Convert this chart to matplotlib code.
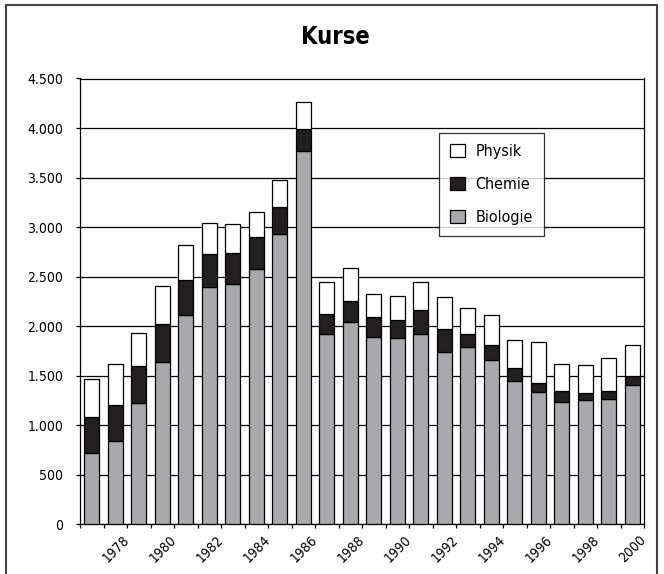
import matplotlib
matplotlib.use("Agg")
import numpy as np
from matplotlib import pyplot as plt
from matplotlib.patches import Rectangle

years = list(range(1977, 2001))
# cumulative tops
top_total = [1464, 1619, 1935, 2409, 2823, 3045, 3032, 3156, 3476, 4264,
             2446, 2588, 2325, 2308, 2446, 2295, 2184, 2113, 1857, 1837,
             1619, 1605, 1676, 1814]
top_chemie = [1080, 1208, 1595, 2022, 2467, 2729, 2742, 2897, 3200, 3991,
              2120, 2258, 2090, 2063, 2160, 1969, 1925, 1814, 1582, 1427,
              1346, 1329, 1346, 1497]
biologie = [723, 838, 1228, 1642, 2110, 2399, 2426, 2581, 2931, 3772,
            1918, 2043, 1891, 1878, 1918, 1740, 1794, 1656, 1447, 1336,
            1238, 1255, 1269, 1410]
chemie = [c - b for c, b in zip(top_chemie, biologie)]
physik = [t - c for t, c in zip(top_total, top_chemie)]

plt.rcParams['font.family'] = ['DejaVu Sans']
plt.rcParams['font.stretch'] = 'condensed'

fig = plt.figure(figsize=(6.64, 5.74), dpi=100)
ax = fig.add_axes([80/664, 1 - 524.3/574, 564/664, (524.3 - 78.5)/574])

x = np.arange(len(years))
w = 0.64
kw = dict(width=w, edgecolor='black', linewidth=0.9, zorder=3)
b1 = ax.bar(x, biologie, color='#a7a9ac', label='Biologie', **kw)
b2 = ax.bar(x, chemie, bottom=biologie, color='#231f20', label='Chemie', **kw)
b3 = ax.bar(x, physik, bottom=top_chemie, color='white', label='Physik', **kw)

ax.set_xlim(-0.5, len(years) - 0.5)
ax.set_ylim(0, 4500)
ax.set_yticks(range(0, 4501, 500))
ax.set_yticklabels([f"{v:,}".replace(',', '.') for v in range(0, 4501, 500)])
ax.yaxis.grid(True, color='black', linewidth=0.9, zorder=0)
ax.set_axisbelow(True)

# labels every other year, ticks at category boundaries
lab_idx = [i for i, y in enumerate(years) if y % 2 == 0]
ax.set_xticks([i + 0.3 for i in lab_idx])
ax.set_xticklabels([str(years[i]) for i in lab_idx], rotation=45,
                   ha='right', va='top', rotation_mode='anchor')
ax.set_xticks(np.arange(-0.5, len(years), 1), minor=True)
ax.tick_params(axis='x', which='major', length=0, pad=6, labelsize=10)
ax.tick_params(axis='x', which='minor', length=3, width=0.9, direction='out')
ax.tick_params(axis='y', length=3, width=0.9, labelsize=10, pad=9)
for s in ax.spines.values():
    s.set_linewidth(0.9)

fig.text(335/664, 1 - 37/574, 'Kurse', fontsize=17, fontweight='bold',
         ha='center', va='center')

leg = ax.legend(handles=[b3, b2, b1], loc='upper left',
                bbox_to_anchor=((439 - 80)/564, (524.3 - 133)/445.8),
                fontsize=11.5, frameon=True, fancybox=False, edgecolor='black',
                handlelength=0.9, handleheight=0.9, labelspacing=1.1,
                borderpad=0.7, handletextpad=0.7, borderaxespad=0)
leg.get_frame().set_linewidth(0.9)
leg.set_zorder(5)

fig.patches.append(Rectangle((6/664, -0.02), 651/664, 1.02 - 5/574,
                             transform=fig.transFigure, fill=False,
                             edgecolor='#444444', linewidth=1.5))

fig.savefig('out.png', dpi=100)
